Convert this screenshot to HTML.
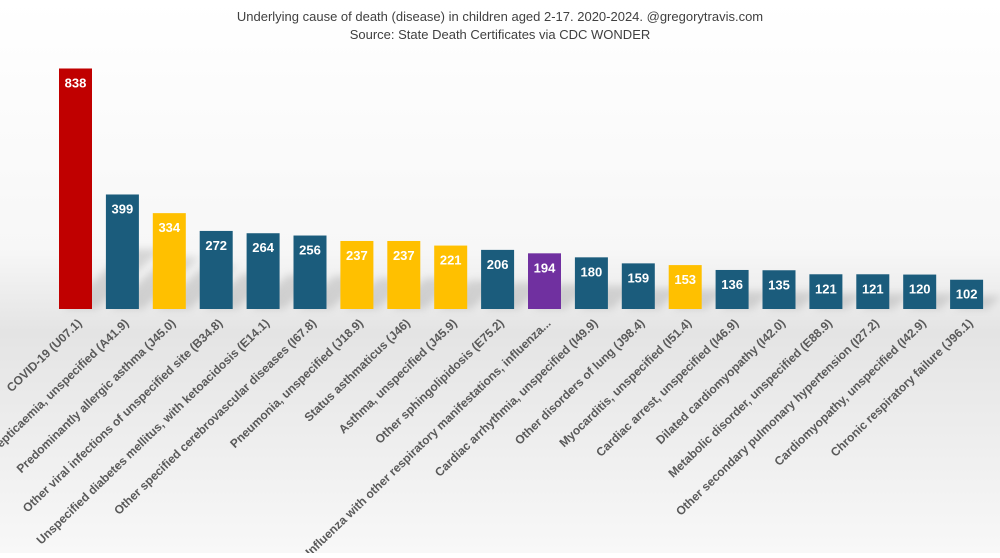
<!DOCTYPE html>
<html><head><meta charset="utf-8"><style>
html,body{margin:0;padding:0;}
body{width:1000px;height:553px;overflow:hidden;background:linear-gradient(#ffffff 0%,#f7f7f7 45%,#e4e4e4 60%,#f8f8f8 100%);font-family:"Liberation Sans",sans-serif;}
</style></head><body>
<svg id="chart" width="1000" height="553" xmlns="http://www.w3.org/2000/svg">
<defs>
<filter id="blur" x="-50%" y="-50%" width="200%" height="200%"><feGaussianBlur stdDeviation="4"/></filter>
</defs>
<text x="500" y="21" text-anchor="middle" font-size="13" fill="#404040">Underlying cause of death (disease) in children aged 2-17.  2020-2024.  @gregorytravis.com</text>
<text x="500" y="39" text-anchor="middle" font-size="13" fill="#404040">Source: State Death Certificates via CDC WONDER</text>
<g id="shadows"></g><g id="bars"></g><g id="labels"></g>
</svg>
<script>
const categories=["COVID-19 (U07.1)","Septicaemia, unspecified (A41.9)","Predominantly allergic asthma (J45.0)","Other viral infections of unspecified site (B34.8)","Unspecified diabetes mellitus, with ketoacidosis (E14.1)","Other specified cerebrovascular diseases (I67.8)","Pneumonia, unspecified (J18.9)","Status asthmaticus (J46)","Asthma, unspecified (J45.9)","Other sphingolipidosis (E75.2)","Influenza with other respiratory manifestations, influenza...","Cardiac arrhythmia, unspecified (I49.9)","Other disorders of lung (J98.4)","Myocarditis, unspecified (I51.4)","Cardiac arrest, unspecified (I46.9)","Dilated cardiomyopathy (I42.0)","Metabolic disorder, unspecified (E88.9)","Other secondary pulmonary hypertension (I27.2)","Cardiomyopathy, unspecified (I42.9)","Chronic respiratory failure (J96.1)"];
const values=[838,399,334,272,264,256,237,237,221,206,194,180,159,153,136,135,121,121,120,102];
const groups=["covid","other","asthma","other","other","other","asthma","asthma","asthma","other","flu","other","other","asthma","other","other","other","other","other","other"];
const colorOf={covid:"#C00000",other:"#1B5C7C",asthma:"#FFC000",flu:"#7030A0"};
const NS="http://www.w3.org/2000/svg";
const baseY=309,x0=59,pitch=46.9,bw=33;
function yScale(v){return baseY-v*0.287;}
function xPos(i){return x0+i*pitch;}
const sh=document.getElementById('shadows'),bg=document.getElementById('bars'),lg=document.getElementById('labels');
categories.forEach((c,i)=>{
  const x=xPos(i),y=yScale(values[i]),h=baseY-y;
  const s=document.createElementNS(NS,'polygon');
  
  
  const sh2=Math.min(h*0.45,60);
  s.setAttribute('points',`${x+4},${baseY} ${x+bw+4},${baseY} ${x+bw+4+sh2*1.1},${baseY-sh2} ${x+4+sh2*1.1},${baseY-sh2}`);
  s.setAttribute('fill','#9a9a9a');s.setAttribute('opacity','0.35');s.setAttribute('filter','url(#blur)');
  sh.appendChild(s);
  const r=document.createElementNS(NS,'rect');
  
  
  r.setAttribute('x',x);r.setAttribute('y',y);r.setAttribute('width',bw);r.setAttribute('height',h);r.setAttribute('fill',colorOf[groups[i]]);
  bg.appendChild(r);
  const t=document.createElementNS(NS,'text');
  
  
  t.setAttribute('x',x+bw/2);t.setAttribute('y',y+19);t.setAttribute('text-anchor','middle');t.setAttribute('font-size','13');t.setAttribute('font-weight','bold');t.setAttribute('fill','#ffffff');
  t.textContent=values[i];bg.appendChild(t);
  const l=document.createElementNS(NS,'text');
  
  
  const lx=x+bw/2+7,ly=baseY+15;
  l.setAttribute('x',lx);l.setAttribute('y',ly);l.setAttribute('text-anchor','end');l.setAttribute('font-size','12');l.setAttribute('font-weight','bold');l.setAttribute('fill','#595959');
  l.setAttribute('transform',`rotate(-44 ${lx} ${ly})`);
  l.textContent=c;lg.appendChild(l);
});
</script>
</body></html>
